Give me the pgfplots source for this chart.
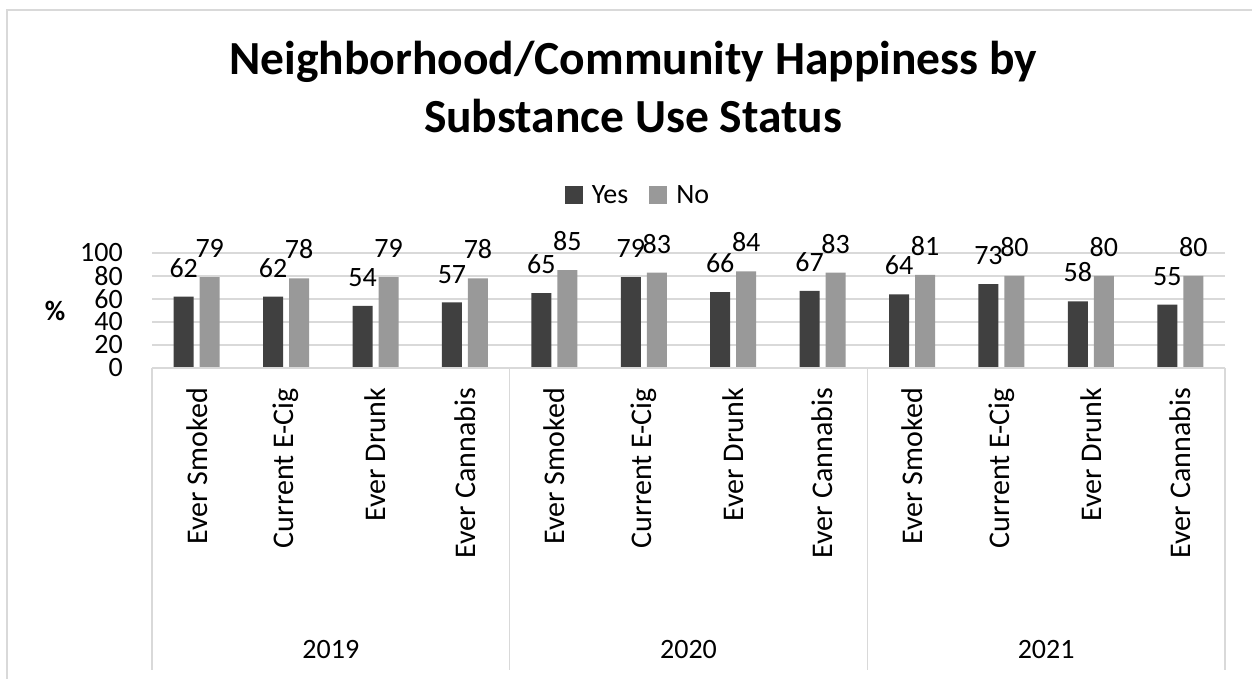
\documentclass[border=0pt]{standalone}
\usepackage{fontspec}
\setmainfont{Carlito}
\usepackage{pgfplots}
\pgfplotsset{compat=1.18}
\definecolor{yescol}{HTML}{404040}
\definecolor{nocol}{HTML}{999999}
\definecolor{gridc}{HTML}{D9D9D9}
\newcommand{\lbl}{\fontsize{28}{34}\selectfont}
\newcommand{\cat}{\fontsize{30}{36}\selectfont}
\begin{document}
\begin{tikzpicture}
\useasboundingbox (0pt,0pt) rectangle (1252pt,679pt);
\fill[white] (0pt,0pt) rectangle (1252pt,679pt);
\draw[gridc, line width=2pt] (7pt,0pt) -- (7pt,669pt) -- (1252pt,669pt);
\begin{axis}[
  at={(152pt,311pt)}, anchor=south west,
  scale only axis, width=1073pt, height=115pt,
  xmin=-0.5, xmax=11.5, ymin=0, ymax=100,
  enlargelimits=false, clip=false,
  ybar=6pt, bar width=20pt,
  axis line style={draw=none},
  major tick length=0pt,
  ytick={0,20,...,100},
  ymajorgrids, major grid style={gridc, line width=1.3pt},
  xtick={0,...,11},
  xticklabels={Ever Smoked,Current E-Cig,Ever Drunk,Ever Cannabis,Ever Smoked,Current E-Cig,Ever Drunk,Ever Cannabis,Ever Smoked,Current E-Cig,Ever Drunk,Ever Cannabis},
  xticklabel style={rotate=90, anchor=east, inner sep=0pt, font=\cat},
  xticklabel shift=20pt,
  yticklabel style={anchor=east, inner sep=0pt, font=\lbl},
  yticklabel shift=29pt,
  /pgf/number format/assume math mode=true,
  ylabel={\%},
  ylabel style={at={(axis description cs:-0.0904,0.5)}, rotate=-90, anchor=center, font=\bfseries\lbl},
  title={Neighborhood/Community Happiness by\\Substance Use Status},
  title style={at={(axis description cs:0.4483,1.991)}, anchor=south, align=center, inner sep=0pt, font=\bfseries\fontsize{47.5}{58}\selectfont},
  legend style={at={(axis description cs:0.452,1.504)}, anchor=center, draw=none, fill=none, legend columns=2, font=\lbl, nodes={inner sep=0pt}, /tikz/every odd column/.append style={column sep=9pt}, /tikz/every even column/.append style={column sep=21pt}},
  nodes near coords,
  every node near coord/.append style={font=\lbl, inner sep=0pt, anchor=south, yshift=19pt, black},
]
\addplot[fill=yescol, draw=none, legend image code/.code={\fill[yescol] (0pt,-9pt) rectangle (18pt,9pt);}] coordinates {(0,62) (1,62) (2,54) (3,57) (4,65) (5,79) (6,66) (7,67) (8,64) (9,73) (10,58) (11,55)};
\addplot[fill=nocol, draw=none, legend image code/.code={\fill[nocol] (0pt,-9pt) rectangle (18pt,9pt);}] coordinates {(0,79) (1,78) (2,79) (3,78) (4,85) (5,83) (6,84) (7,83) (8,81) (9,80) (10,80) (11,80)};
\legend{Yes,No}
\draw[gridc, line width=1.3pt] (axis cs:-0.5,0) -- (axis cs:11.5,0);
\draw[gridc, line width=1.5pt] (axis cs:-0.5,0) -- ++(0pt,-302pt);
\draw[gridc, line width=1.5pt] (axis cs:3.5,0) -- ++(0pt,-302pt);
\draw[gridc, line width=1.5pt] (axis cs:7.5,0) -- ++(0pt,-302pt);
\draw[gridc, line width=1.5pt] (axis cs:11.5,0) -- ++(0pt,-302pt);
\node[font=\lbl, anchor=center] at (axis cs:1.5,0) [yshift=-282pt] {2019};
\node[font=\lbl, anchor=center] at (axis cs:5.5,0) [yshift=-282pt] {2020};
\node[font=\lbl, anchor=center] at (axis cs:9.5,0) [yshift=-282pt] {2021};
\end{axis}
\end{tikzpicture}
\end{document}
